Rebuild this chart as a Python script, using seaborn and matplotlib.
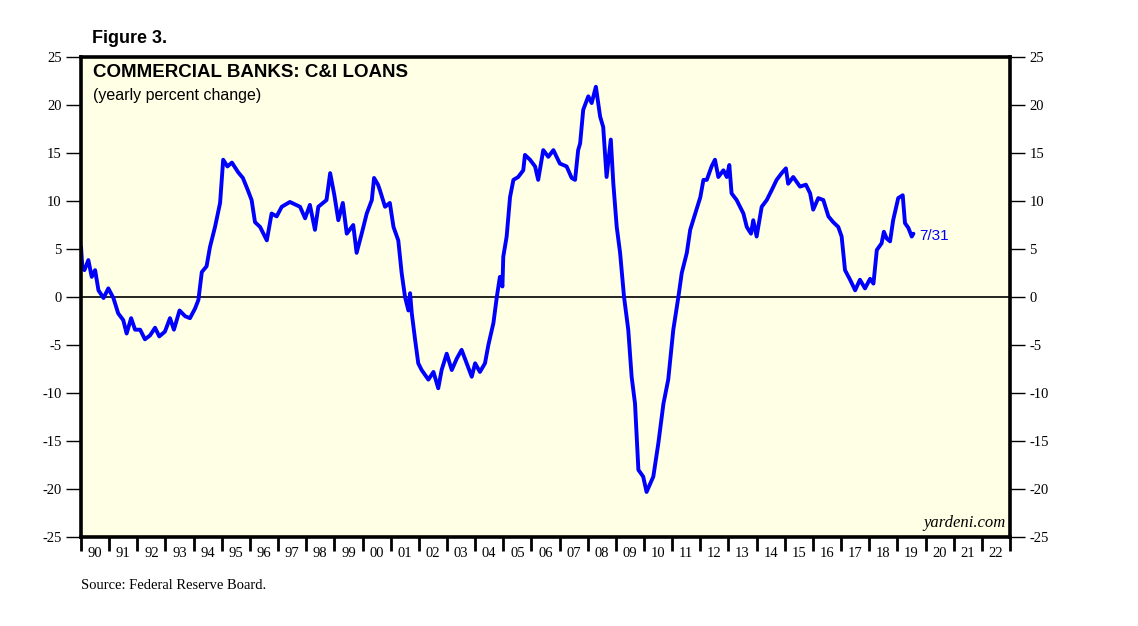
import numpy as np
import pandas as pd
import matplotlib
matplotlib.use('Agg')
import matplotlib.pyplot as plt
import seaborn as sns

# C&I loans, yearly percent change
dates = [1990.00, 1990.05, 1990.12, 1990.26, 1990.38, 1990.50, 1990.62, 1990.80, 1990.97,
         1991.15, 1991.32, 1991.50, 1991.62, 1991.78, 1991.92, 1992.10, 1992.27, 1992.45,
         1992.63, 1992.78, 1992.98, 1993.16, 1993.30, 1993.50, 1993.70, 1993.87, 1994.05,
         1994.17, 1994.29, 1994.46, 1994.58, 1994.76, 1994.94, 1995.05, 1995.20, 1995.36,
         1995.58, 1995.75, 1995.93, 1996.06, 1996.18, 1996.36, 1996.60, 1996.77, 1996.95,
         1997.13, 1997.42, 1997.78, 1997.96, 1998.13, 1998.31, 1998.43, 1998.72, 1998.85,
         1999.00, 1999.14, 1999.30, 1999.44, 1999.67, 1999.79, 1999.97, 2000.15, 2000.33,
         2000.41, 2000.55, 2000.62, 2000.80, 2000.97, 2001.10, 2001.27, 2001.39, 2001.51,
         2001.63, 2001.69, 2001.75, 2001.87, 2001.98, 2002.10, 2002.34, 2002.52, 2002.69,
         2002.81, 2002.99, 2003.17, 2003.35, 2003.52, 2003.70, 2003.88, 2004.00, 2004.17,
         2004.35, 2004.47, 2004.65, 2004.77, 2004.88, 2004.97, 2005.00, 2005.12, 2005.24,
         2005.36, 2005.53, 2005.71, 2005.77, 2005.95, 2006.13, 2006.24, 2006.42, 2006.60,
         2006.78, 2007.01, 2007.25, 2007.43, 2007.55, 2007.66, 2007.73, 2007.84, 2008.02,
         2008.14, 2008.29, 2008.44, 2008.55, 2008.67, 2008.82, 2008.91, 2009.03, 2009.15,
         2009.29, 2009.44, 2009.56, 2009.68, 2009.80, 2009.97, 2010.09, 2010.33, 2010.51,
         2010.69, 2010.86, 2011.04, 2011.22, 2011.34, 2011.52, 2011.64, 2011.82, 2012.00,
         2012.11, 2012.23, 2012.40, 2012.52, 2012.64, 2012.82, 2012.94, 2013.03, 2013.11,
         2013.29, 2013.53, 2013.65, 2013.80, 2013.88, 2014.00, 2014.18, 2014.36, 2014.53,
         2014.71, 2014.89, 2015.04, 2015.12, 2015.30, 2015.54, 2015.75, 2015.90, 2016.01,
         2016.19, 2016.37, 2016.55, 2016.72, 2016.90, 2017.02, 2017.14, 2017.32, 2017.50,
         2017.67, 2017.85, 2018.03, 2018.15, 2018.27, 2018.44, 2018.52, 2018.62, 2018.74,
         2018.85, 2019.03, 2019.19, 2019.27, 2019.39, 2019.51, 2019.57]
pct_change = [5.2, 3.0, 2.8, 3.85, 2.1, 2.8, 0.7, -0.1, 0.9,
              -0.1, -1.7, -2.4, -3.8, -2.2, -3.4, -3.4, -4.4, -4.0,
              -3.2, -4.1, -3.6, -2.2, -3.4, -1.4, -2.0, -2.2, -1.2,
              -0.3, 2.6, 3.2, 5.2, 7.3, 9.8, 14.3, 13.6, 14.0,
              13.0, 12.4, 11.1, 10.1, 7.8, 7.3, 5.9, 8.7, 8.4,
              9.4, 9.9, 9.4, 8.2, 9.6, 7.0, 9.4, 10.1, 12.9,
              10.6, 8.0, 9.8, 6.6, 7.5, 4.6, 6.6, 8.7, 10.1,
              12.4, 11.7, 11.1, 9.4, 9.8, 7.3, 5.9, 2.5, 0.0,
              -1.4, 0.4, -1.7, -4.5, -6.9, -7.6, -8.6, -7.8, -9.5,
              -7.6, -5.9, -7.6, -6.4, -5.5, -6.9, -8.3, -6.9, -7.8,
              -6.9, -5.0, -2.7, 0.0, 2.1, 1.1, 4.2, 6.3, 10.4,
              12.2, 12.5, 13.2, 14.8, 14.3, 13.6, 12.2, 15.3, 14.6,
              15.3, 13.9, 13.6, 12.4, 12.2, 15.3, 16.0, 19.5, 20.9,
              20.2, 21.9, 18.8, 17.7, 12.5, 16.4, 11.8, 7.3, 4.6,
              0.0, -3.4, -8.3, -11.1, -18.0, -18.7, -20.3, -18.7, -15.2,
              -11.1, -8.6, -3.4, 0.0, 2.5, 4.6, 7.0, 8.7, 10.4,
              12.2, 12.2, 13.6, 14.3, 12.5, 13.2, 12.5, 13.75, 10.8,
              10.1, 8.7, 7.3, 6.6, 8.0, 6.3, 9.4, 10.1, 11.1,
              12.2, 12.9, 13.4, 11.8, 12.5, 11.5, 11.7, 10.8, 9.1,
              10.3, 10.1, 8.4, 7.8, 7.3, 6.3, 2.8, 1.8, 0.7,
              1.8, 0.9, 1.9, 1.4, 4.9, 5.6, 6.8, 6.1, 5.8,
              8.0, 10.3, 10.6, 7.7, 7.2, 6.3, 6.6]
year_starts = list(range(1990, 2024))
year_labels = ['90', '91', '92', '93', '94', '95', '96', '97', '98', '99', '00', '01',
               '02', '03', '04', '05', '06', '07', '08', '09', '10', '11', '12', '13',
               '14', '15', '16', '17', '18', '19', '20', '21', '22']
y_ticks = [-25, -20, -15, -10, -5, 0, 5, 10, 15, 20, 25]
last_label = '7/31'

df = pd.DataFrame({'date': dates, 'pct': pct_change})

sns.set_style('white')
plt.rcParams['font.family'] = ['Liberation Serif', 'DejaVu Serif']
plt.rcParams['text.color'] = 'black'

fig = plt.figure(figsize=(11.38, 6.26), dpi=100)
ax = fig.add_axes([0.0712, 0.142, 0.8163, 0.767])
ax.set_facecolor('#FFFFE5')

sns.lineplot(data=df, x='date', y='pct', color='#0000FF', lw=2.8, ax=ax, sort=False)
ax.axhline(0, color='black', lw=1.2, zorder=1)

ax.set_xlim(1990, 2023)
ax.set_ylim(-25, 25)
ax.set_xlabel('')
ax.set_ylabel('')

for s in ax.spines.values():
    s.set_linewidth(2.6)
    s.set_color('black')

ax.set_yticks(y_ticks)
ax.set_yticklabels([str(v) for v in y_ticks])
ax.tick_params(axis='y', which='major', direction='out', length=11, width=1,
               left=True, right=True, labelleft=True, labelright=True,
               labelsize=10.5, pad=3, colors='black')

ax.set_xticks(year_starts)
ax.set_xticklabels([''] * len(year_starts))
ax.set_xticks([y + 0.5 for y in year_starts[:-1]], minor=True)
ax.set_xticklabels(year_labels, minor=True)
ax.tick_params(axis='x', which='major', direction='out', length=10, width=2,
               bottom=True, colors='black')
ax.tick_params(axis='x', which='minor', length=0, labelsize=10.5, pad=7,
               colors='black')

ax.text(dates[-1] + 0.2, pct_change[-1] - 0.2, last_label, color='#0000FF',
        fontsize=11, family='Liberation Sans', va='center', ha='left')

ax.text(0.013, 0.985, 'COMMERCIAL BANKS: C&I LOANS', transform=ax.transAxes,
        fontsize=13.5, fontweight='bold', family='Liberation Sans', va='top', ha='left')
ax.text(0.013, 0.935, '(yearly percent change)', transform=ax.transAxes,
        fontsize=11.5, family='Liberation Sans', va='top', ha='left')
ax.text(0.995, 0.012, 'yardeni.com', transform=ax.transAxes, fontsize=12,
        style='italic', va='bottom', ha='right')

fig.text(0.081, 0.925, 'Figure 3.', fontsize=13, fontweight='bold',
         family='Liberation Sans', va='bottom', ha='left')
fig.text(0.071, 0.064, 'Source: Federal Reserve Board.', fontsize=10.5,
         va='center', ha='left')

fig.savefig('out.png', dpi=100, facecolor='white')
